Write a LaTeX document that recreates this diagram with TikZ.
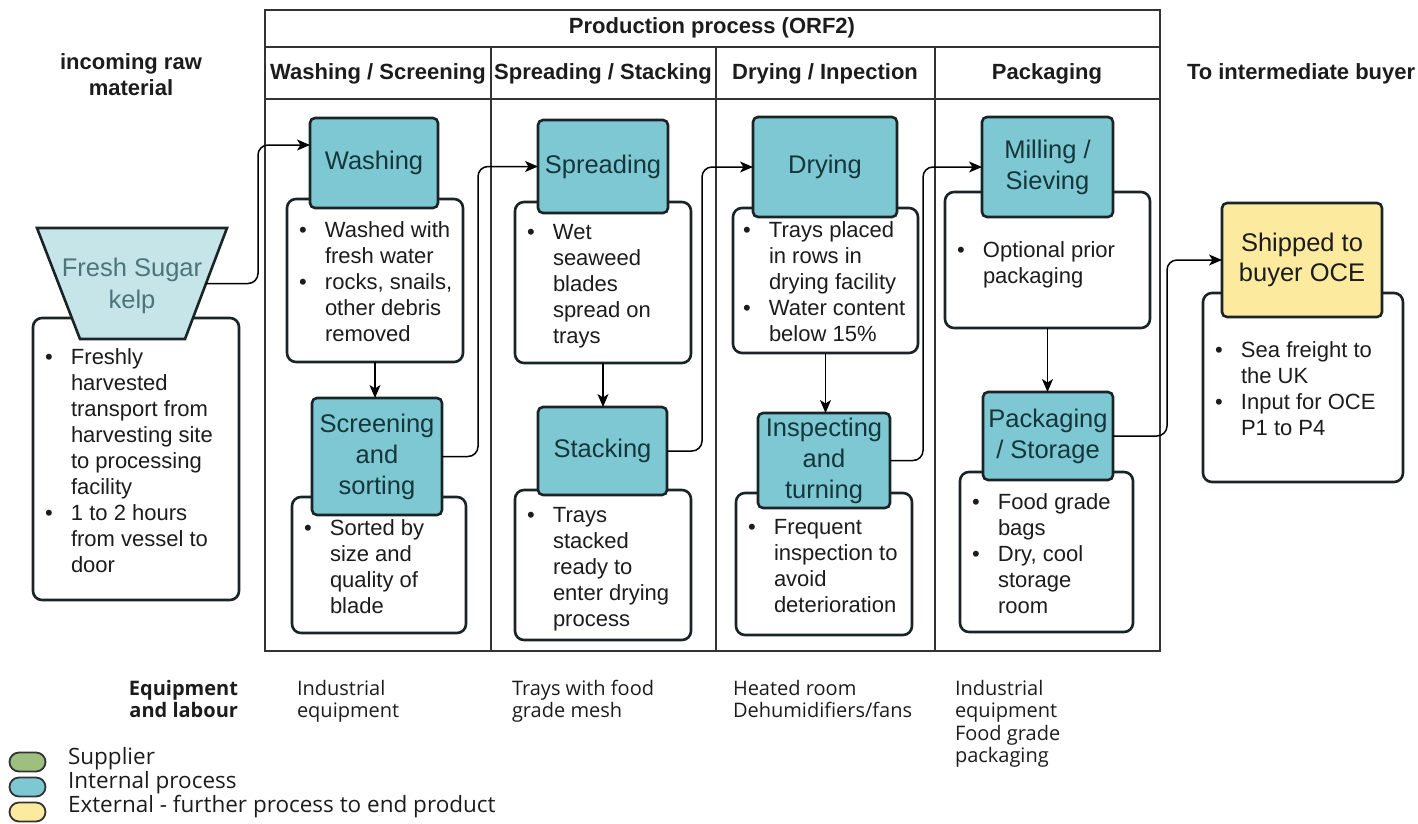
\documentclass[tikz,border=0pt]{standalone}
\usepackage{fontspec}
\setmainfont{Liberation Sans}
\newfontfamily\osans{Open Sans}
\usetikzlibrary{arrows.meta,calc}

\definecolor{procfill}{HTML}{7EC8D3}
\definecolor{procline}{HTML}{1A2426}
\definecolor{proctext}{HTML}{15363A}
\definecolor{kelpfill}{HTML}{C6E5E9}
\definecolor{kelptext}{HTML}{4D7479}
\definecolor{shipfill}{HTML}{FCEB9E}
\definecolor{suppfill}{HTML}{9DC07F}
\definecolor{framecol}{HTML}{333333}
\definecolor{bodytext}{HTML}{1C1C1C}

% bullet list with hanging continuation lines
\newcommand\blist[1]{{\fontsize{22}{26}\selectfont
  \begin{tabular}{@{}p{26pt}@{}l@{}}#1\end{tabular}}}

\begin{document}
\begin{tikzpicture}[x=1pt,y=-1pt,
  every node/.style={inner sep=0pt,outer sep=0pt},
  proc/.style={draw=procline,fill=procfill,line width=2.6pt,rounded corners=5pt,
    text=proctext,align=center,font=\fontsize{25.5}{31}\selectfont},
  desc/.style={draw=procline,fill=white,line width=2.6pt,rounded corners=9pt},
  dtext/.style={anchor=west,text=bodytext},
  lane/.style={draw=framecol,line width=2pt},
  hdr/.style={font=\bfseries\fontsize{22}{26}\selectfont,text=bodytext},
  flow/.style={draw=black,line width=1.5pt,rounded corners=10pt,
    -{Stealth[length=13pt,width=11pt,inset=3.5pt]}},
  equip/.style={font=\osans\fontsize{20}{22.5}\selectfont,align=left,
    anchor=north west,text=bodytext},
  equiplab/.style={font=\osans\bfseries\fontsize{20}{22.5}\selectfont,align=right,
    anchor=north east,text=bodytext},
  legkey/.style={draw=framecol,line width=1.8pt,rounded corners=9.5pt,
    minimum width=36pt,minimum height=19pt},
  legtext/.style={font=\osans\fontsize{22.5}{24}\selectfont,anchor=west,text=bodytext}
]
\useasboundingbox (0,0) rectangle (1418,823);

% swimlane frame
\draw[lane] (265,10) rectangle (1160,651);
\draw[lane] (265,47) -- (1160,47);
\draw[lane] (265,99) -- (1160,99);
\draw[lane] (491,47) -- (491,651);
\draw[lane] (716,47) -- (716,651);
\draw[lane] (935,47) -- (935,651);

% headings
\node[hdr] (ttl) at (712,28) {Production process (ORF2)};
\node[hdr] (h1) at (378,74) {Washing / Screening};
\node[hdr] (h2) at (603,74) {Spreading / Stacking};
\node[hdr] (h3) at (825,74) {Drying / Inpection};
\node[hdr] (h4) at (1047,74) {Packaging};
\node[hdr,anchor=west] (h5) at (1187,74) {To intermediate buyer};
\node[hdr,align=center] (h0) at (131,75) {incoming raw\\material};

% raw material
\node[desc,minimum width=206pt,minimum height=282pt] (freshd) at (136,459) {};
\node[dtext] (freshdt) at ([xshift=12pt,yshift=-4pt]freshd.west) {\blist{
  \textbullet & Freshly\\ & harvested\\ & transport from\\ & harvesting site\\
  & to processing\\ & facility\\ \textbullet & 1 to 2 hours\\ & from vessel to\\ & door}};
% funnel-shaped supplier symbol
\draw[draw=procline,fill=kelpfill,line width=2.6pt,line join=miter]
  (37,228) -- (227,228) -- (185,339) -- (80,339) -- cycle;
\node[text=kelptext,align=center,font=\fontsize{25.5}{32}\selectfont]
  (kelp) at (132,286) {Fresh Sugar\\kelp};
\coordinate (kelpout) at (206,283.5);

% washing / screening
\node[desc,minimum width=176pt,minimum height=163pt] (washd) at (375,280.5) {};
\node[dtext] (washdt) at ([xshift=12pt,yshift=-4pt]washd.west) {\blist{
  \textbullet & Washed with\\ & fresh water\\ \textbullet & rocks, snails,\\
  & other debris\\ & removed}};
\node[proc,minimum width=128pt,minimum height=90pt] (wash) at (374,163) {Washing};

\node[desc,minimum width=174pt,minimum height=136pt] (scrd) at (379,565) {};
\node[dtext] (scrdt) at ([xshift=12pt,yshift=-4pt]scrd.west) {\blist{
  \textbullet & Sorted by\\ & size and\\ & quality of\\ & blade}};
\node[proc,minimum width=130pt,minimum height=117pt] (scr) at (377,456.5)
  {Screening\\and\\sorting};

% spreading / stacking
\node[desc,minimum width=176pt,minimum height=161pt] (sprd) at (603,282.5) {};
\node[dtext] (sprdt) at ([xshift=12pt,yshift=-4pt]sprd.west) {\blist{
  \textbullet & Wet\\ & seaweed\\ & blades\\ & spread on\\ & trays}};
\node[proc,minimum width=130pt,minimum height=93pt] (spr) at (603,166.5) {Spreading};

\node[desc,minimum width=176pt,minimum height=150pt] (stkd) at (603,565) {};
\node[dtext] (stkdt) at ([xshift=12pt,yshift=-4pt]stkd.west) {\blist{
  \textbullet & Trays\\ & stacked\\ & ready to\\ & enter drying\\ & process}};
\node[proc,minimum width=129pt,minimum height=88pt] (stk) at (602.5,451) {Stacking};

% drying / inspection
\node[desc,minimum width=185pt,minimum height=145pt] (dryd) at (825.5,280.5) {};
\node[dtext] (drydt) at ([xshift=10pt,yshift=-4pt]dryd.west) {\blist{
  \textbullet & Trays placed\\ & in rows in\\ & drying facility\\
  \textbullet & Water content\\ & below 15\%}};
\node[proc,minimum width=144pt,minimum height=100pt] (dry) at (825,167) {Drying};

\node[desc,minimum width=176pt,minimum height=142pt] (inspd) at (824,564) {};
\node[dtext] (inspdt) at ([xshift=12pt,yshift=-4pt]inspd.west) {\blist{
  \textbullet & Frequent\\ & inspection to\\ & avoid\\ & deterioration}};
\node[proc,minimum width=132pt,minimum height=95pt] (insp) at (824,460.5)
  {Inspecting\\and\\turning};

% packaging
\node[desc,minimum width=205pt,minimum height=136pt] (milld) at (1047.5,260) {};
\node[dtext] (milldt) at ([xshift=12pt,yshift=-5pt]milld.west) {\blist{
  \textbullet & Optional prior\\ & packaging}};
\node[proc,minimum width=131pt,minimum height=100pt] (mill) at (1047.5,167)
  {Milling /\\Sieving};

\node[desc,minimum width=173pt,minimum height=160pt] (packd) at (1046.5,552) {};
\node[dtext] (packdt) at ([xshift=12pt,yshift=-4pt]packd.west) {\blist{
  \textbullet & Food grade\\ & bags\\ \textbullet & Dry, cool\\ & storage\\ & room}};
\node[proc,minimum width=130pt,minimum height=88pt] (pack) at (1048,436)
  {Packaging\\/ Storage};

% external buyer
\node[desc,minimum width=200pt,minimum height=189pt] (shipd) at (1303,387.5) {};
\node[dtext] (shipdt) at ([xshift=12pt,yshift=-4pt]shipd.west) {\blist{
  \textbullet & Sea freight to\\ & the UK\\ \textbullet & Input for OCE\\ & P1 to P4}};
\node[proc,fill=shipfill,text=bodytext,font=\fontsize{25.5}{30}\selectfont,
  minimum width=160pt,minimum height=114pt] (ship) at (1302,260)
  {Shipped to\\buyer OCE};

% connector bend columns
\coordinate (j1) at (258,0);
\coordinate (j2) at (478,0);
\coordinate (j3) at (702,0);
\coordinate (j4) at (923,0);
\coordinate (j5) at (1167,0);
\coordinate (washin) at ($(wash.north west)!0.3!(wash.south west)$);

\draw[flow] (kelpout) -- (kelpout -| j1) |- (washin);
\draw[flow] (washd.south) -- (washd.south |- scr.north);
\draw[flow] (scr.east) -- (scr.east -| j2) |- (spr.west);
\draw[flow] (sprd.south) -- (sprd.south |- stk.north);
\draw[flow] (stk.east) -- (stk.east -| j3) |- (dry.west);
\draw[flow] (dryd.south) -- (dryd.south |- insp.north);
\draw[flow] (insp.east) -- (insp.east -| j4) |- (mill.west);
\draw[flow] (milld.south) -- (milld.south |- pack.north);
\draw[flow] (pack.east) -- (pack.east -| j5) |- (ship.west);

% equipment and labour row
\node[equiplab] (eqlab) at (238,680) {Equipment\\and labour};
\node[equip] (eq1) at (297,680) {Industrial\\equipment};
\node[equip] (eq2) at (512,680) {Trays with food\\grade mesh};
\node[equip] (eq3) at (733,680) {Heated room\\Dehumidifiers/fans};
\node[equip] (eq4) at (955,680) {Industrial\\equipment\\Food grade\\packaging};

% legend
\node[legkey,fill=suppfill] (lg1) at (27.5,762) {};
\node[legkey,fill=procfill] (lg2) at (27.5,787) {};
\node[legkey,fill=shipfill] (lg3) at (27.5,812) {};
\node[legtext] (lt1) at (68,759) {Supplier};
\node[legtext] (lt2) at (68,783) {Internal process};
\node[legtext] (lt3) at (68,807) {External - further process to end product};
\end{tikzpicture}
\end{document}
